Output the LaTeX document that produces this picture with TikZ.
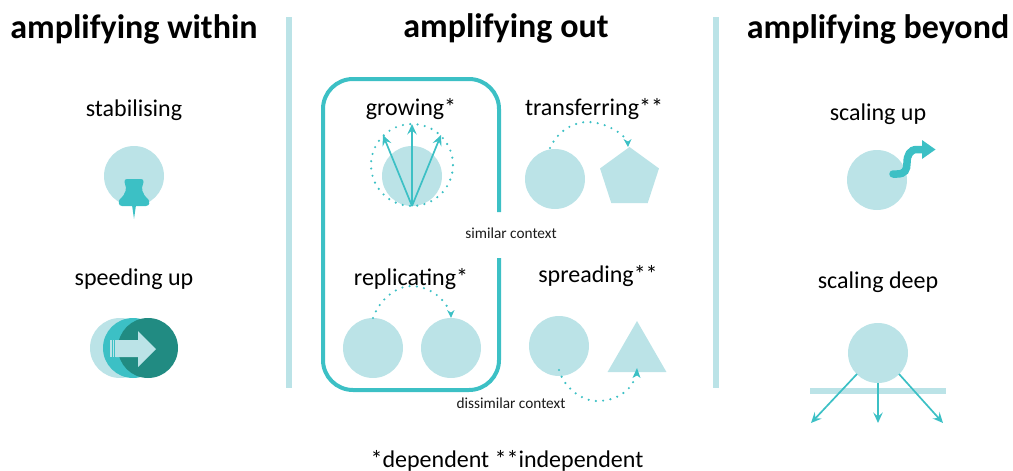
\documentclass[tikz,border=0pt]{standalone}
\usepackage{fontspec}
\setmainfont{Carlito}
\usetikzlibrary{arrows.meta,shapes.geometric}
\definecolor{lightc}{HTML}{BBE3E7}
\definecolor{midc}{HTML}{3CC0C5}
\definecolor{darkc}{HTML}{218B82}
\definecolor{inkc}{HTML}{1A1A1A}
\tikzset{
 x=1pt,y=-1pt,
 disc/.style={circle,fill=lightc,minimum size=60pt,inner sep=0pt,outer sep=0pt},
 titletext/.style={anchor=base,font=\fontsize{34}{34}\selectfont\bfseries,text=black,inner sep=0pt},
 labeltext/.style={anchor=base,font=\fontsize{24}{24}\selectfont,text=black,inner sep=0pt},
 smalltext/.style={anchor=base,font=\fontsize{15.3}{15.3}\selectfont,text=inkc,inner sep=0pt},
 notetext/.style={anchor=base,font=\fontsize{24}{24}\selectfont,text=black,inner sep=0pt},
 sepbar/.style={fill=lightc,draw=none},
 thinarrow/.style={draw=midc,line width=1.7pt,-{Stealth[length=10.5pt,width=9.5pt,inset=4pt]}},
 dotarrow/.style={draw=midc,line width=2.4pt,line cap=round,dash pattern=on 0pt off 7.3pt},
}
\begin{document}
\begin{tikzpicture}
\useasboundingbox (0,0) rectangle (1013,471);
% separators
\fill[sepbar] (286,17) rectangle (292,388);
\fill[sepbar] (713,17) rectangle (719,388);
% titles
\node[titletext] (t1) at (134,38) {amplifying within};
\node[titletext] (t2) at (506,37) {amplifying out};
\node[titletext] (t3) at (878,38) {amplifying beyond};
% within
\node[labeltext] (l1) at (134,116) {stabilising};
\node[disc] (c1) at (134,176) {};
\fill[midc] (127,179) -- (141,179) .. controls (143,179) and (143.5,180) .. (143.5,182) -- (143,184) .. controls (141,188) and (142,194) .. (148,199) .. controls (150,201) and (150,206) .. (146,206) -- (122,206) .. controls (118,206) and (118,201) .. (120,199) .. controls (126,194) and (127,188) .. (125,184) -- (124.5,182) .. controls (124.5,180) and (125,179) .. (127,179) -- cycle;
\fill[midc] (132,205) -- (134,219) -- (136,205) -- cycle;
\node[labeltext] (l2) at (134,285) {speeding up};
\node[disc] (c2a) at (120,348) {};
\node[disc,fill=midc] (c2b) at (133,348) {};
\node[disc,fill=darkc] (c2c) at (148,348) {};
\fill[lightc] (116,340) -- (138,340) -- (138,331) -- (156,349) -- (138,367) -- (138,357) -- (116,357) -- cycle;
\fill[lightc] (110,340) rectangle (111.5,357);
\fill[lightc] (112.5,340) rectangle (114,357);
\fill[lightc] (115,340) rectangle (116.5,357);
% out: frame
\draw[midc,line width=4pt,rounded corners=30pt] (499,212) -- (499,79) -- (323,79) -- (323,390) -- (499,390) -- (499,258);
\node[labeltext] (l3) at (411,115) {growing*};
\node[disc] (c3) at (412,176) {};
\node[circle,minimum size=82pt,inner sep=0pt,draw=midc,line width=2.4pt,line cap=round,dash pattern=on 0pt off 7.35pt] (c3o) at (412,165) {};
\coordinate (g0) at (412,206);
\coordinate (g1) at (383,135);
\coordinate (g2) at (412,124);
\coordinate (g3) at (441,135);
\draw[thinarrow] (g0) -- (g1);
\draw[thinarrow] (g0) -- (g2);
\draw[thinarrow] (g0) -- (g3);
\node[labeltext] (l4) at (594,115) {transferring**};
\node[disc] (c4) at (555,179) {};
\node[regular polygon,regular polygon sides=5,fill=lightc,minimum size=62pt,inner sep=0pt,outer sep=0pt] (p4) at (629.5,178) {};
\coordinate (a4s) at (550,148);
\coordinate (a4e) at (628,147);
\draw[dotarrow] (a4s) .. controls (558,130) and (575,122) .. (587,122) .. controls (603,122) and (618,130) .. (626,139);
\fill[midc] (a4e) -- (623.5,139) -- (628,141.5) -- (631.5,139) -- cycle;
\node[smalltext] (s1) at (511,238) {similar context};
\node[labeltext] (l5) at (411,285) {replicating*};
\node[disc] (c5a) at (373,348) {};
\node[disc] (c5b) at (451,348) {};
\coordinate (a5s) at (373,318);
\coordinate (a5e) at (451,318);
\draw[dotarrow] (a5s) .. controls (380,298) and (398,286) .. (411,286) .. controls (428,286) and (443,297) .. (449,310);
\fill[midc] (a5e) -- (447,310) -- (451,312.5) -- (454.5,310) -- cycle;
\node[labeltext] (l6) at (598,282) {spreading**};
\node[disc] (c6) at (559,346) {};
\node[isosceles triangle,isosceles triangle apex angle=60,shape border rotate=90,fill=lightc,minimum height=51pt,inner sep=0pt,outer sep=0pt] (p6) at (637,355) {};
\coordinate (a6s) at (559,370);
\coordinate (a6e) at (637,368);
\draw[dotarrow] (a6s) .. controls (564,388) and (582,401) .. (597,401) .. controls (615,401) and (630,392) .. (635,378);
\fill[midc] (a6e) -- (632.5,378) -- (637,375.5) -- (640.5,378) -- cycle;
\node[smalltext] (s2) at (511,408) {dissimilar context};
\node[notetext] (n1) at (507,467) {*dependent **independent};
% beyond
\node[labeltext] (l7) at (878,120) {scaling up};
\node[disc] (c7) at (877,180) {};
\coordinate (a7s) at (893,174);
\coordinate (a7e) at (923,149.5);
\draw[midc,line width=7.5pt,line cap=round] (a7s) -- (897,174) .. controls (905,174) and (907,170) .. (907,163) .. controls (907,155) and (910,149.5) .. (917,149.5) -- (a7e);
\fill[midc] (922,140) -- (935.5,149.5) -- (922,159) -- cycle;
\node[labeltext] (l8) at (878,288) {scaling deep};
\fill[lightc] (810,388) rectangle (946,394);
\node[disc] (c8) at (878,353) {};
\coordinate (d1) at (811,423);
\coordinate (d2) at (878,423);
\coordinate (d3) at (943,423);
\coordinate (u1) at (857,374);
\coordinate (u2) at (878,383);
\coordinate (u3) at (899,374);
\draw[thinarrow] (u1) -- (d1);
\draw[thinarrow] (u2) -- (d2);
\draw[thinarrow] (u3) -- (d3);
\end{tikzpicture}
\end{document}
